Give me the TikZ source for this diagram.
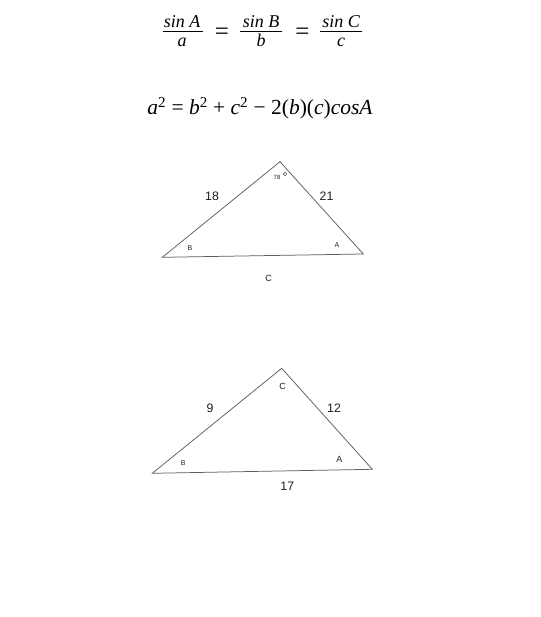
\documentclass[tikz,border=0pt]{standalone}
\usepackage{fontspec}
\setmainfont{Liberation Serif}
\newfontfamily\lblfont{Liberation Sans}
\definecolor{triline}{RGB}{95,95,95}
\definecolor{lbltext}{RGB}{30,30,30}
\definecolor{degline}{RGB}{80,80,80}
\begin{document}
\begin{tikzpicture}[x=1pt,y=-1pt,
  eq/.style={inner sep=0pt,anchor=base,font=\fontsize{18}{20}\selectfont\itshape},
  eqsign/.style={inner sep=0pt,font=\fontsize{25}{26}\selectfont},
  bar/.style={line width=1pt},
  tri/.style={draw=triline,line width=0.75pt,line join=miter},
  lbl/.style={inner sep=0pt,text=lbltext},
  big/.style={lbl,font=\lblfont\fontsize{12.3}{12}\selectfont},
  mid/.style={lbl,font=\lblfont\fontsize{9}{9}\selectfont},
  small/.style={lbl,font=\lblfont\fontsize{7}{7}\selectfont},
  tiny/.style={lbl,font=\lblfont\fontsize{6}{6}\selectfont}]
\useasboundingbox[fill=white] (0,0) rectangle (540,617);
% law of sines
\node[eq] (n1) at (182,27.5) {sin A};
\node[eq] (d1) at (182,47) {a};
\coordinate (b1l) at (162.5,31.5); \coordinate (b1r) at (202.5,31.5);
\draw[bar] (b1l) -- (b1r);
\node[eqsign] (e1) at (222,34) {=};
\node[eq] (n2) at (261,27.5) {sin B};
\node[eq] (d2) at (261,47) {b};
\coordinate (b2l) at (240,31.5); \coordinate (b2r) at (282,31.5);
\draw[bar] (b2l) -- (b2r);
\node[eqsign] (e2) at (302.5,34) {=};
\node[eq] (n3) at (341,27.5) {sin C};
\node[eq] (d3) at (341,47) {c};
\coordinate (b3l) at (320,31.5); \coordinate (b3r) at (362,31.5);
\draw[bar] (b3l) -- (b3r);
% law of cosines
\node[inner sep=0pt,anchor=base,font=\fontsize{21.5}{22}\selectfont] (cos) at (260,115)
 {\textit{a}\textsuperscript{2} = \textit{b}\textsuperscript{2} + \textit{c}\textsuperscript{2} − 2(\textit{b})(\textit{c})\textit{cosA}};
% triangle 1
\coordinate (B1) at (162.3,257.3);
\coordinate (C1) at (280,161.7);
\coordinate (A1) at (363.3,254);
\draw[tri] (B1) -- (C1) -- (A1) -- cycle;
\node[big] (l18) at (212,196.5) {18};
\node[big] (l21) at (326.5,196.5) {21};
\node[tiny] (l78) at (277,177.5) {78};
\node[draw=degline,circle,inner sep=0pt,minimum size=3.5pt,line width=0.5pt] (deg) at (285,174) {};
\node[small] (lB1) at (190,248.5) {B};
\node[small] (lA1) at (337,245) {A};
\node[mid] (lc1) at (268.5,278.5) {C};
% triangle 2
\coordinate (B2) at (152.3,473.3);
\coordinate (C2) at (281.7,368.3);
\coordinate (A2) at (372.3,469.3);
\draw[tri] (B2) -- (C2) -- (A2) -- cycle;
\node[big] (l9) at (210,408.3) {9};
\node[big] (l12) at (334,408.3) {12};
\node[mid] (lC2) at (282.7,386.7) {C};
\node[small] (lB2) at (183.3,463.3) {B};
\node[mid] (lA2) at (339.3,459.3) {A};
\node[big] (l17) at (287.3,486.7) {17};
\end{tikzpicture}
\end{document}
